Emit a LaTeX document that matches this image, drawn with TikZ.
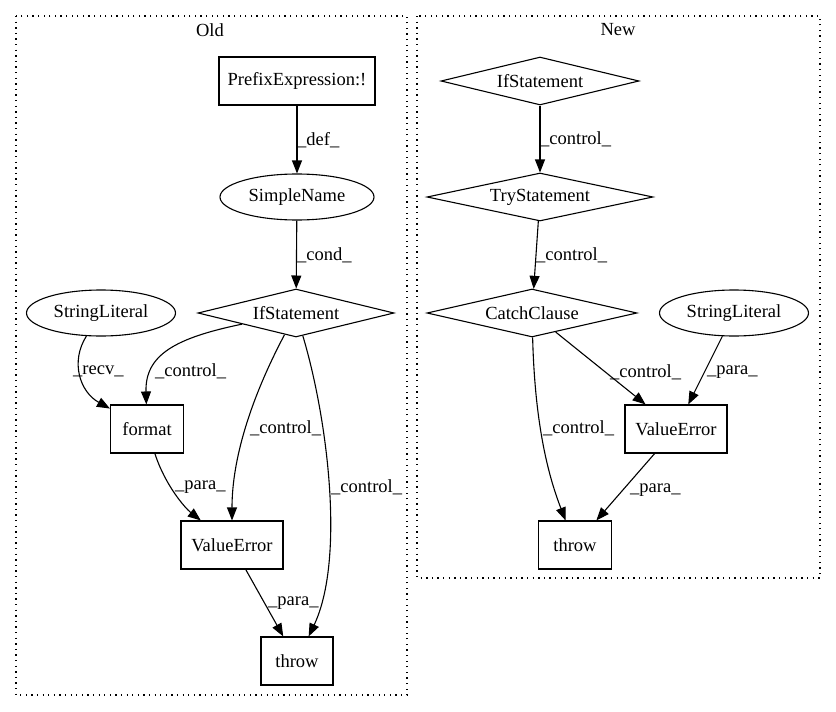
\documentclass[tikz,border=0pt]{standalone}
\usepackage{fontspec}
\setmainfont{Liberation Serif}
\usetikzlibrary{shapes.geometric,arrows.meta}
\begin{document}
\begin{tikzpicture}[x=1pt,y=-1pt,
  every node/.style={font=\fontsize{18.5}{21}\selectfont},
  box/.style={draw,line width=1.1pt,rectangle,inner sep=0pt},
  ell/.style={draw,line width=1.1pt,ellipse,inner sep=0pt,minimum width=150pt,minimum height=46pt},
  dia/.style={draw,line width=1.1pt,diamond,inner sep=0pt,aspect=5},
  edge/.style={line width=1.1pt,-{Triangle[length=13pt,width=10pt]}},
  lbl/.style={anchor=west,inner sep=0pt},
  cluster/.style={draw,line width=1.1pt,dash pattern=on 1.3pt off 4.3pt}]
\useasboundingbox[fill=white] (0,0) rectangle (836,712);
% clusters
\draw[cluster] (16,16) rectangle (407,695);
\draw[cluster] (417,16) rectangle (820,578);
\node (oldt) at (210,30) {Old};
\node (newt) at (618,30) {New};
% Old nodes
\node[box,minimum width=156pt,minimum height=48pt] (pre) at (297,81) {PrefixExpression:!};
\node[ell,minimum width=154pt] (sn) at (297,197) {SimpleName};
\node[dia,minimum width=196pt,minimum height=48pt] (if1) at (296,313) {IfStatement};
\node[ell,minimum width=149pt] (sl1) at (101,313) {StringLiteral};
\node[box,minimum width=73pt,minimum height=48pt] (fmt) at (147,429) {format};
\node[box,minimum width=102pt,minimum height=48pt] (ve1) at (232,545) {ValueError};
\node[box,minimum width=72pt,minimum height=48pt] (th1) at (297,661) {throw};
% New nodes
\node[dia,minimum width=198pt,minimum height=48pt] (if2) at (540,81) {IfStatement};
\node[dia,minimum width=226pt,minimum height=48pt] (try) at (540,197) {TryStatement};
\node[dia,minimum width=210pt,minimum height=48pt] (catch) at (532,313) {CatchClause};
\node[ell,minimum width=149pt] (sl2) at (734,313) {StringLiteral};
\node[box,minimum width=102pt,minimum height=48pt] (ve2) at (676,429) {ValueError};
\node[box,minimum width=73pt,minimum height=48pt] (th2) at (575,545) {throw};
% Old edges
\draw[edge] (pre) -- (sn);
\draw[edge] (sn) -- (if1);
\draw[edge] (if1) .. controls (175,338) and (145,355) .. (fmt);
\draw[edge] (sl1) .. controls (70,362) and (80,392) .. (fmt);
\draw[edge] (if1) .. controls (250,400) and (232,460) .. (ve1);
\draw[edge] (if1) .. controls (328,420) and (345,560) .. (th1);
\draw[edge] (fmt) .. controls (165,485) and (185,508) .. (ve1);
\draw[edge] (ve1) -- (th1);
% Old labels
\node[lbl] (l1) at (297,140) {\_def\_};
\node[lbl] (l2) at (297,255) {\_cond\_};
\node[lbl] (l3) at (73,371) {\_recv\_};
\node[lbl] (l4) at (155,371) {\_control\_};
\node[lbl] (l5) at (250,428) {\_control\_};
\node[lbl] (l6) at (331,487) {\_control\_};
\node[lbl] (l7) at (175,487) {\_para\_};
\node[lbl] (l8) at (268,603) {\_para\_};
% New edges
\draw[edge] (if2) -- (try);
\draw[edge] (try) -- (catch);
\draw[edge] (catch) -- (ve2);
\draw[edge] (sl2) -- (ve2);
\draw[edge] (catch) .. controls (535,430) and (550,480) .. (th2);
\draw[edge] (ve2) -- (th2);
% New labels
\node[lbl] (m1) at (540,139) {\_control\_};
\node[lbl] (m2) at (536,255) {\_control\_};
\node[lbl] (m3) at (610,372) {\_control\_};
\node[lbl] (m4) at (707,372) {\_para\_};
\node[lbl] (m5) at (543,428) {\_control\_};
\node[lbl] (m6) at (630,490) {\_para\_};
\end{tikzpicture}
\end{document}
